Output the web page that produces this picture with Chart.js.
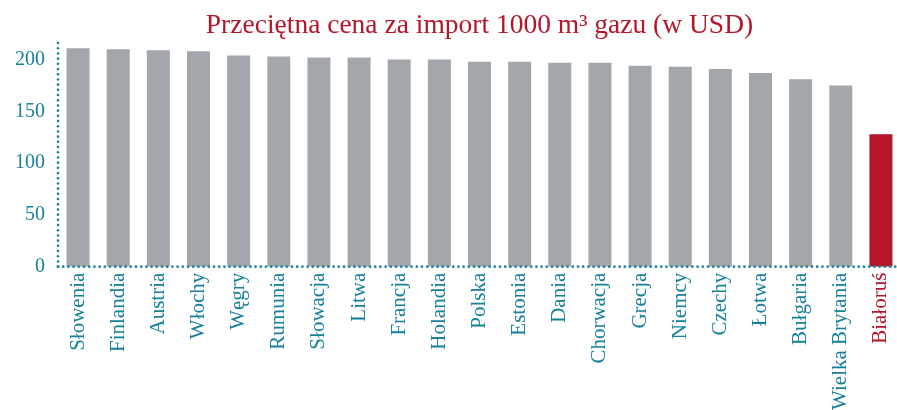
<!DOCTYPE html>
<html>
<head>
<meta charset="utf-8">
<script src="https://cdn.jsdelivr.net/npm/chart.js@4"></script>
<style>
  html, body { margin: 0; padding: 0; background: #fff; overflow: hidden; }
  #wrap { width: 901px; height: 410px; }
</style>
</head>
<body>
<div id="wrap"><canvas id="chart"></canvas></div>
<script>
// dane
const countries = ['Słowenia', 'Finlandia', 'Austria', 'Włochy', 'Węgry', 'Rumunia', 'Słowacja', 'Litwa',
    'Francja', 'Holandia', 'Polska', 'Estonia', 'Dania', 'Chorwacja', 'Grecja', 'Niemcy', 'Czechy',
    'Łotwa', 'Bułgaria', 'Wielka Brytania', 'Białoruś'];
const prices = [211, 210, 209, 208, 204, 203, 202, 202, 200, 200, 198, 198, 197, 197, 194, 193, 191, 187, 181, 175, 128];
const yTicks = [0, 50, 100, 150, 200];
const highlighted = 'Białoruś';

const teal = '#17809a';
const red = '#b51629';
const grey = '#a3a7ab';
const font = "'Liberation Serif', 'DejaVu Serif', serif";

// kropkowane osie
const dottedAxes = {
    id: 'dottedAxes',
    afterDraw(chart) {
        const { ctx, chartArea: a } = chart;
        const step = 5.2, r = 1.3;
        ctx.save();
        ctx.fillStyle = teal;
        for (let y = a.bottom; y >= a.top; y -= step) {
            ctx.beginPath();
            ctx.arc(a.left, y, r, 0, Math.PI * 2);
            ctx.fill();
        }
        for (let x = a.left; x <= chart.width; x += step) {
            ctx.beginPath();
            ctx.arc(x, a.bottom, r, 0, Math.PI * 2);
            ctx.fill();
        }
        ctx.restore();
    }
};

const ctx = document.getElementById('chart');

new Chart(ctx, {
    type: 'bar',
    data: {
        labels: countries,
        datasets: [{
            data: prices,
            backgroundColor: countries.map(c => c === highlighted ? red : grey),
            barPercentage: 0.573,
            categoryPercentage: 1
        }]
    },
    options: {
        responsive: true,
        maintainAspectRatio: false,
        animation: false,
        layout: { padding: { left: 2, right: 0, top: 0, bottom: -6 } },
        plugins: {
            legend: { display: false },
            tooltip: { enabled: false },
            title: {
                display: true,
                fullSize: false,
                text: 'Przeciętna cena za import 1000 m³ gazu (w USD)',
                color: red,
                font: { family: font, size: 27.5, weight: 'normal', lineHeight: 1 },
                padding: { top: 12.5, bottom: 2 }
            }
        },
        scales: {
            x: {
                grid: { display: false, drawTicks: false },
                border: { display: false },
                afterFit: s => { s.paddingRight = 0; },
                ticks: {
                    minRotation: 90,
                    maxRotation: 90,
                    autoSkip: false,
                    padding: 6,
                    color: c => countries[c.index] === highlighted ? red : teal,
                    font: { family: font, size: 21 }
                }
            },
            y: {
                min: 0,
                max: 217,
                afterBuildTicks: axis => { axis.ticks = yTicks.map(v => ({ value: v })); },
                grid: { display: false, drawTicks: false },
                border: { display: false },
                ticks: {
                    padding: 13,
                    color: teal,
                    font: { family: font, size: 20 }
                }
            }
        }
    },
    plugins: [dottedAxes]
});
</script>
</body>
</html>
